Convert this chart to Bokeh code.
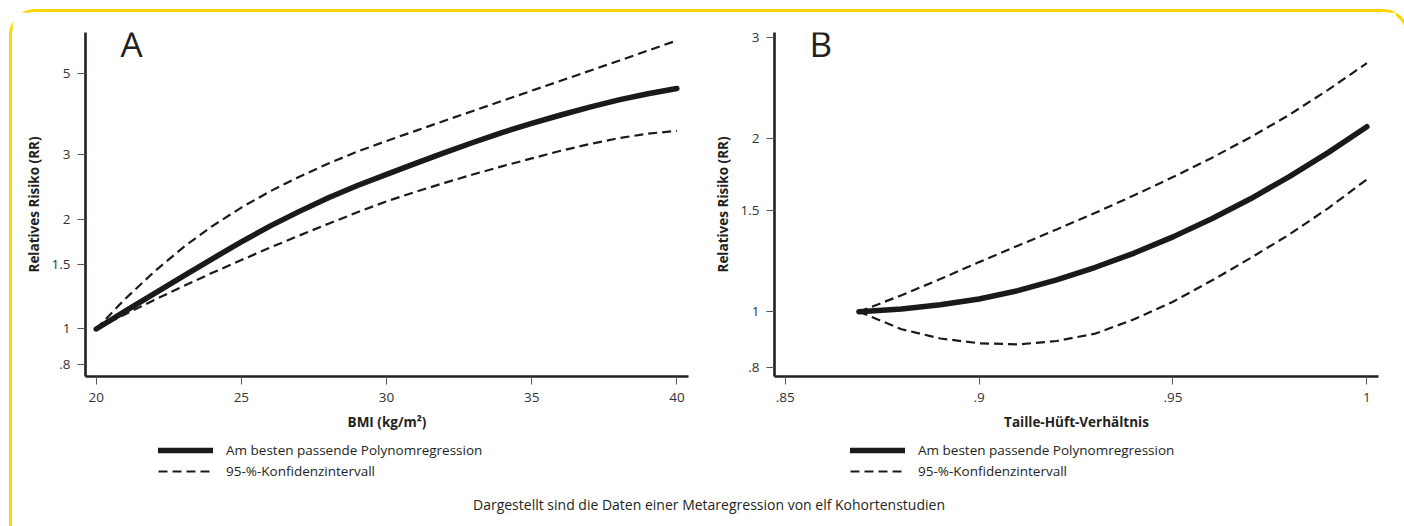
from bokeh.plotting import figure
from bokeh.models import FixedTicker, Legend, LegendItem, Label, Div, Range1d
from bokeh.layouts import row, column
from bokeh.embed import file_html
from bokeh.resources import INLINE

# ---------------- data ----------------
bmi = [20, 21, 22, 23, 24, 25, 26, 27, 28, 29, 30,
       31, 32, 33, 34, 35, 36, 37, 38, 39, 40]
bmi_fit = [1.000, 1.119, 1.250, 1.395, 1.557, 1.733, 1.916, 2.100, 2.289, 2.472, 2.651,
           2.843, 3.043, 3.248, 3.456, 3.658, 3.857, 4.055, 4.242, 4.411, 4.559]
bmi_upper = [1.000, 1.209, 1.436, 1.674, 1.914, 2.151, 2.385, 2.614, 2.841, 3.062, 3.274,
             3.490, 3.721, 3.963, 4.221, 4.495, 4.787, 5.098, 5.430, 5.789, 6.172]
bmi_lower = [1.000, 1.097, 1.201, 1.310, 1.425, 1.545, 1.672, 1.804, 1.943, 2.088, 2.237,
             2.375, 2.514, 2.654, 2.793, 2.933, 3.077, 3.212, 3.333, 3.428, 3.490]

whr = [0.869, 0.88, 0.89, 0.90, 0.91, 0.92, 0.93, 0.94, 0.95, 0.96, 0.97, 0.98, 0.99, 1.00]
whr_fit = [1.000, 1.011, 1.028, 1.052, 1.088, 1.136, 1.195, 1.265, 1.350, 1.452, 1.573,
           1.719, 1.893, 2.100]
whr_upper = [1.00, 1.068, 1.14, 1.22, 1.303, 1.391, 1.487, 1.595, 1.716, 1.853, 2.014,
             2.203, 2.435, 2.71]
whr_lower = [1.00, 0.932, 0.898, 0.881, 0.877, 0.889, 0.916, 0.970, 1.041, 1.133, 1.240,
             1.363, 1.514, 1.70]

bmi_ticks = [20, 25, 30, 35, 40]
bmi_tick_labels = ["20", "25", "30", "35", "40"]
whr_ticks = [0.85, 0.90, 0.95, 1.00]
whr_tick_labels = [".85", ".9", ".95", "1"]
rr_ticks_a = [0.8, 1, 1.5, 2, 3, 5]
rr_tick_labels_a = [".8", "1", "1.5", "2", "3", "5"]
rr_ticks_b = [0.8, 1, 1.5, 2, 3]
rr_tick_labels_b = [".8", "1", "1.5", "2", "3"]

legend_fit = "Am besten passende Polynomregression"
legend_ci = "95-%-Konfidenzintervall"
caption = "Dargestellt sind die Daten einer Metaregression von elf Kohortenstudien"

FONT = "Open Sans"
INK = "#231f20"
LINE = "#1a1a1a"
YELLOW = "#FFD400"

FIT_STYLE = dict(line_color=LINE, line_width=5.5, line_cap="round", line_join="round")
CI_STYLE = dict(line_color=LINE, line_width=2.2, line_dash="9 5")


def panel(x, fit, up, lo, xr, yr, xt, xtl, yt, ytl, xlabel, letter,
          frame_w, border_l, border_r):
    p = figure(x_range=Range1d(*xr), y_range=Range1d(*yr), y_axis_type="log",
               frame_width=frame_w, frame_height=344,
               min_border_left=border_l, min_border_right=border_r,
               min_border_top=20, min_border_bottom=62,
               output_backend="svg", toolbar_location=None,
               background_fill_color="white", border_fill_color="white")
    p.outline_line_color = None
    p.grid.visible = False

    p.line(x, up, **CI_STYLE)
    p.line(x, lo, **CI_STYLE)
    p.line(x, fit, **FIT_STYLE)

    for ax in (p.xaxis[0], p.yaxis[0]):
        ax.axis_line_color = INK
        ax.axis_line_width = 2.6
        ax.major_tick_line_color = "#555555"
        ax.major_tick_line_width = 1
        ax.major_tick_out = 8
        ax.major_tick_in = 0
        ax.minor_tick_line_color = None
        ax.major_label_text_font = FONT
        ax.major_label_text_font_size = "13.5px"
        ax.major_label_text_color = "#333333"
        ax.axis_label_text_font = FONT
        ax.axis_label_text_font_size = "13.5px"
        ax.axis_label_text_font_style = "bold"
        ax.axis_label_text_color = INK

    p.xaxis.major_label_standoff = 8
    p.xaxis.axis_label_standoff = 8
    p.yaxis.major_label_standoff = 7
    p.yaxis.axis_label_standoff = 6

    p.xaxis.ticker = FixedTicker(ticks=xt)
    p.xaxis.major_label_overrides = {v: s for v, s in zip(xt, xtl)}
    p.xaxis.axis_label = xlabel
    p.yaxis.ticker = FixedTicker(ticks=yt)
    p.yaxis.major_label_overrides = {v: s for v, s in zip(yt, ytl)}
    p.yaxis.axis_label = "Relatives Risiko (RR)"

    p.add_layout(Label(x=35, y=333, x_units="screen", y_units="screen",
                       text=letter, text_font=FONT, text_font_size="35px",
                       text_color=INK, text_baseline="alphabetic"))
    return p


def legend_box(width, legend_x, x, fit, up):
    # legend-only strip; its sample renderers reuse the panel series but are hidden
    q = figure(width=width, height=52, x_range=Range1d(0, 1), y_range=Range1d(0, 1),
               x_axis_location=None, y_axis_location=None,
               min_border=0, output_backend="svg", toolbar_location=None,
               background_fill_color="white", border_fill_color="white")
    q.grid.visible = False
    q.outline_line_color = None
    r_fit = q.line(x, fit, visible=False, **FIT_STYLE)
    r_ci = q.line(x, up, visible=False, **CI_STYLE)
    leg = Legend(items=[LegendItem(label=legend_fit, renderers=[r_fit]),
                        LegendItem(label=legend_ci, renderers=[r_ci])],
                 location=(legend_x, 10), orientation="vertical",
                 glyph_width=55, glyph_height=18, label_height=18,
                 label_standoff=13, spacing=3, padding=0, margin=0,
                 border_line_color=None, background_fill_alpha=0,
                 inactive_fill_alpha=0,
                 label_text_font=FONT, label_text_font_size="13.5px",
                 label_text_color=INK)
    q.add_layout(leg, "center")
    return q


pa = panel(bmi, bmi_fit, bmi_upper, bmi_lower, (19.632, 40.40), (0.741, 6.49),
           bmi_ticks, bmi_tick_labels, rr_ticks_a, rr_tick_labels_a,
           "BMI (kg/m²)", "A", 603, 73, 13)
pb = panel(whr, whr_fit, whr_upper, whr_lower, (0.84724, 1.003), (0.771, 3.065),
           whr_ticks, whr_tick_labels, rr_ticks_b, rr_tick_labels_b,
           "Taille-Hüft-Verhältnis", "B", 604, 73, 18)

# the legend strips' frames are aligned with the panel frames above them
la = legend_box(689, 73, bmi, bmi_fit, bmi_upper)
lb = legend_box(695, 76, whr, whr_fit, whr_upper)

cap = Div(text=caption, width=1384, height=36,
          styles={"font-family": FONT, "font-size": "14px", "color": INK,
                  "text-align": "center", "line-height": "20px"})

layout = column(row(column(pa, la), column(pb, lb)), cap,
                styles={"border": f"3px solid {YELLOW}", "border-bottom": "none",
                        "border-radius": "26px 26px 0 0", "background": "white",
                        "margin": "9px 0 0 9px"})

open("out.html", "w").write(file_html(layout, INLINE))
